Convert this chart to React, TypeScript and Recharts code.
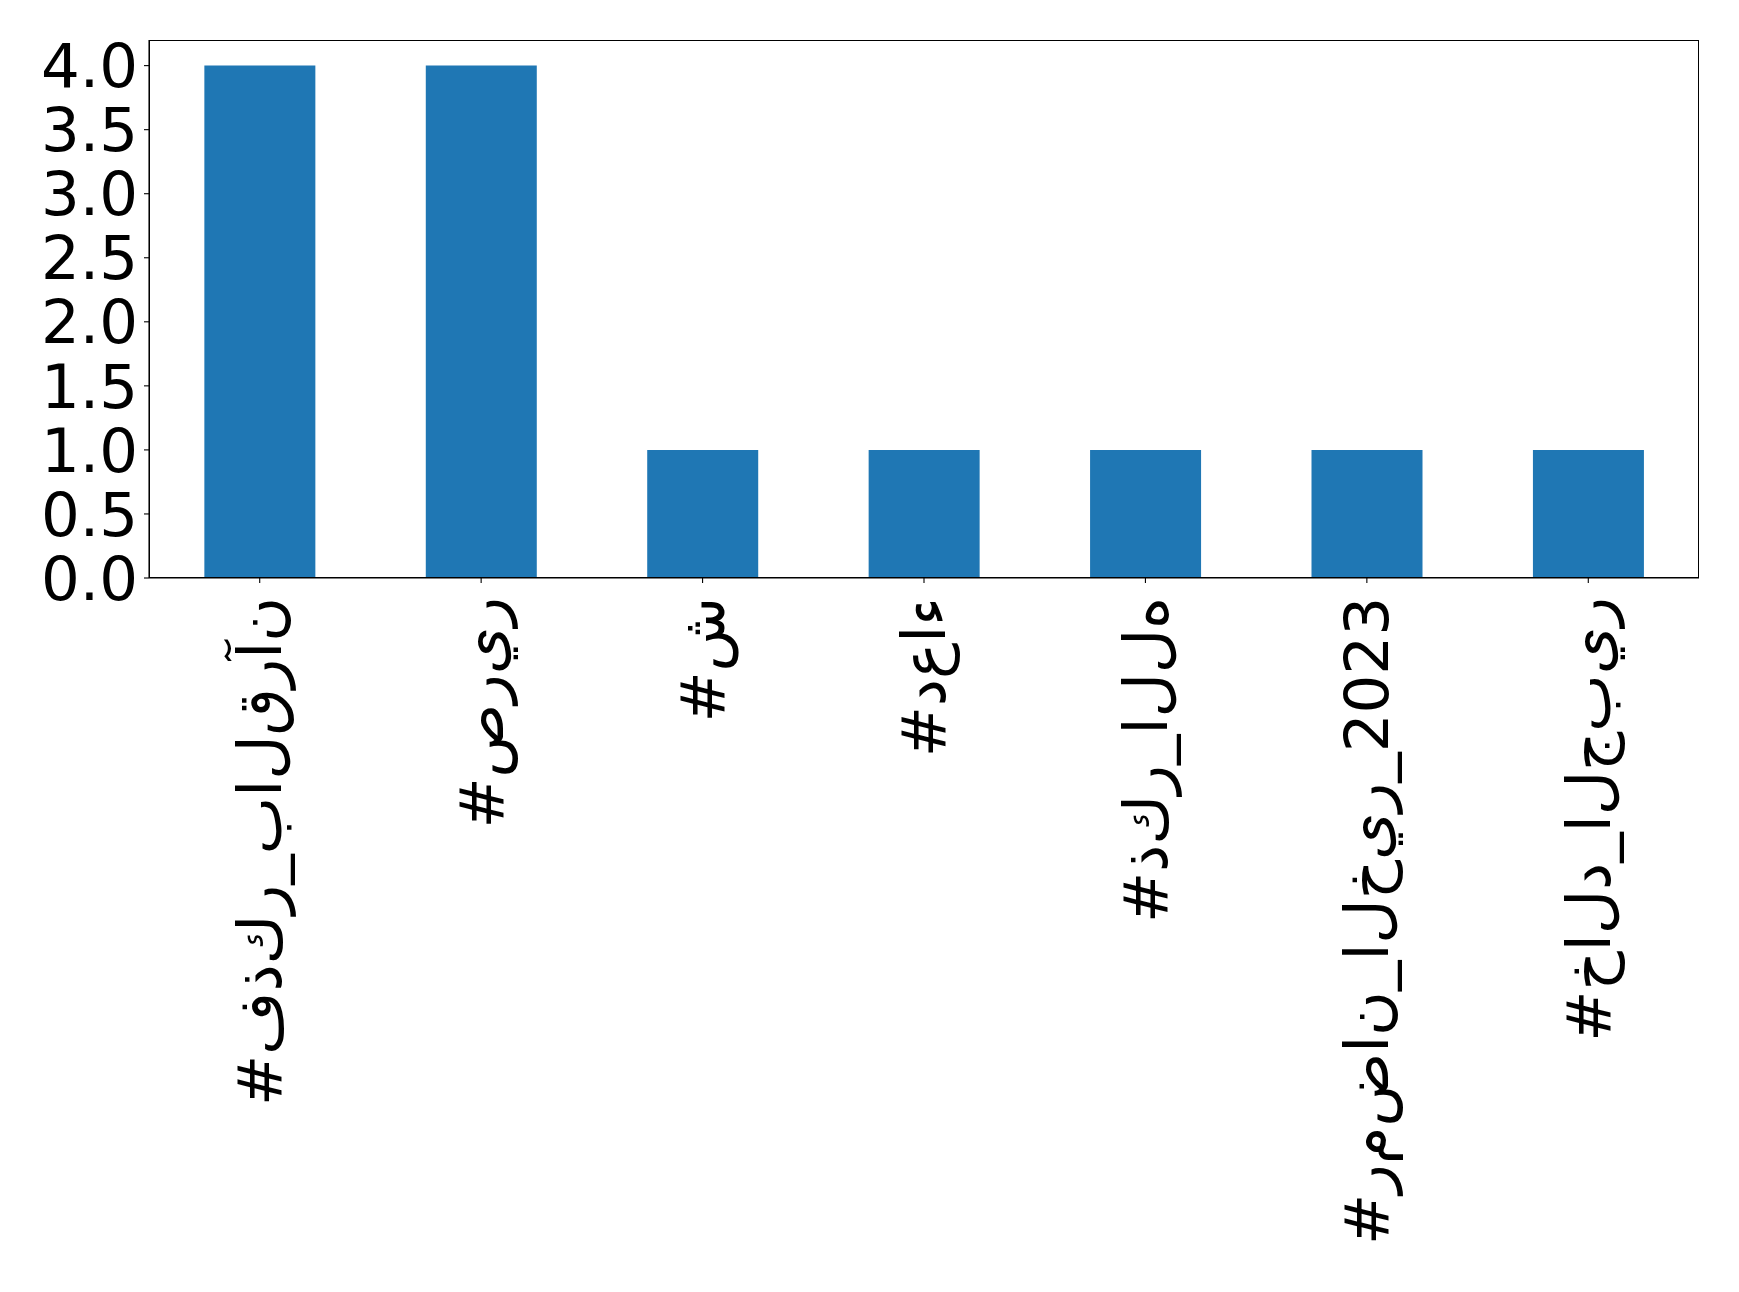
import React from 'react';
import { BarChart, Bar, XAxis, YAxis } from 'recharts';

const tags = [
  '#فذكر_بالقرآن',
  '#صرير',
  '#ش',
  '#دعاء',
  '#ذكر_الله',
  '#رمضان_الخير_2023',
  '#خالد_الجبير',
];
const counts = [4, 4, 1, 1, 1, 1, 1];
const yTicks = [0, 0.5, 1, 1.5, 2, 2.5, 3, 3.5, 4];

const data = tags.map((tag, i) => ({ tag, count: counts[i] }));

const FONT = 'DejaVu Sans, sans-serif';

// matplotlib drew the Arabic unshaped, left to right, letter by letter
const TagTick = (props: any) => {
  const { x, y, payload } = props;
  return (
    <g transform={`translate(${x},${y + 12})`}>
      <text
        transform="rotate(-90)"
        textAnchor="end"
        dy="0.35em"
        fontFamily={FONT}
        fontSize={61}
        fill="#000"
        style={{
          direction: 'ltr',
          unicodeBidi: 'bidi-override',
          fontFeatureSettings: '"init" 0, "medi" 0, "fina" 0, "rlig" 0, "liga" 0, "calt" 0',
        }}
      >
        {payload.value}
      </text>
    </g>
  );
};

const App: React.FC = () => {
  return (
    <div style={{ position: 'absolute', left: 0, top: 0, width: 1739, height: 1292, background: '#fff' }}>
      <style>{`body{margin:0}`}</style>
      <BarChart
        width={1739}
        height={1292}
        data={data}
        margin={{ top: 40, right: 40, left: 0, bottom: 0 }}
        barCategoryGap="25%"
      >
        <XAxis
          dataKey="tag"
          interval={0}
          height={714}
          tick={<TagTick />}
          tickSize={5}
          stroke="#000"
          axisLine={{ stroke: '#000', strokeWidth: 1.1 }}
          tickLine={{ stroke: '#000', strokeWidth: 1.1 }}
        />
        <YAxis
          domain={[0, 4.2]}
          ticks={yTicks}
          interval={0}
          width={149}
          tickSize={5}
          tickMargin={6}
          stroke="#000"
          tickFormatter={(v: number) => v.toFixed(1)}
          tick={{ fontFamily: FONT, fontSize: 61, fill: '#000' }}
          axisLine={{ stroke: '#000', strokeWidth: 1.1 }}
          tickLine={{ stroke: '#000', strokeWidth: 1.1 }}
        />
        <Bar dataKey="count" fill="#1f77b4" isAnimationActive={false} />
      </BarChart>
      {/* axes frame */}
      <div
        style={{
          position: 'absolute',
          left: 149,
          top: 40,
          width: 1550,
          height: 538,
          border: '1.1px solid #000',
          boxSizing: 'border-box',
          pointerEvents: 'none',
        }}
      />
    </div>
  );
};

export default App;
